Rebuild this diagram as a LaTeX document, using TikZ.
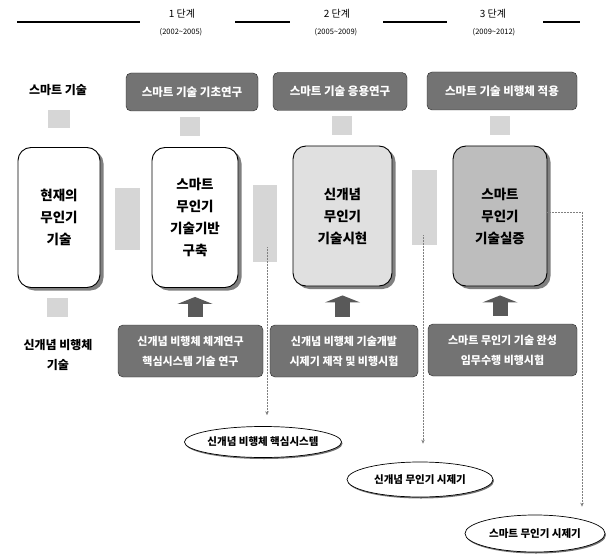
\documentclass[tikz,border=0pt]{standalone}
\usepackage{fontspec}
\setmainfont{Noto Sans CJK KR}
\usetikzlibrary{shapes.geometric, shapes.arrows, shadows}
\usetikzlibrary{arrows.meta}

\begin{document}
\begin{tikzpicture}[x=1pt,y=-1pt,
  stagetxt/.style={font=\fontsize{10}{10}\selectfont},
  yeartxt/.style={font=\fontsize{7.5}{8}\selectfont},
  sidetxt/.style={font=\fontsize{12}{20}\selectfont\bfseries, align=center},
  topbox/.style={draw=black!85, fill=black!55, rounded corners=5pt, text=white, font=\fontsize{11.5}{20}\selectfont\bfseries, align=center, inner sep=0pt, minimum height=38pt},
  botbox/.style={topbox, font=\fontsize{11}{20}\selectfont\bfseries, minimum height=52pt},
  stagebox/.style={draw=black, fill=white, line width=0.9pt, rounded corners=13pt, font=\fontsize{13.5}{22}\selectfont\bfseries, align=center, inner sep=0pt, minimum height=140pt, drop shadow={shadow xshift=3.5pt, shadow yshift=-3pt, fill=black!50, opacity=1}},
  softblock/.style={fill=black!16, inner sep=0pt},
  push/.style={line width=15pt, draw=black!65, -{Triangle[width=35pt,length=7pt]}, shorten <=8pt, shorten >=9pt},
  conn/.style={densely dotted, draw=black!50, line width=0.5pt, -{Stealth[length=4pt,width=3.5pt]}},
  result/.style={ellipse, draw=black, fill=white, line width=0.7pt, inner sep=0pt, font=\fontsize{10.5}{12}\selectfont\bfseries, drop shadow={shadow xshift=1pt, shadow yshift=-1.5pt, fill=black!55, opacity=1}},
  rule/.style={line width=1.3pt}]
\useasboundingbox (0,0) rectangle (607,556);

\draw[rule] (17,22) -- (140,22);
\draw[rule] (235,22) -- (290,22);
\draw[rule] (383,22) -- (447,22);
\draw[rule] (543,22) -- (580,22);
\node[stagetxt] (st1) at (182,14) {1 단계};
\node[yeartxt] (yr1) at (181,32) {(2002\textasciitilde 2005)};
\node[stagetxt] (st2) at (337,14) {2 단계};
\node[yeartxt] (yr2) at (336,32) {(2005\textasciitilde 2009)};
\node[stagetxt] (st3) at (493,14) {3 단계};
\node[yeartxt] (yr3) at (494,32) {(2009\textasciitilde 2012)};

\node[sidetxt] (smart) at (58,90) {스마트 기술};
\node[topbox, minimum width=132pt] (t1) at (192,92) {스마트 기술 기초연구};
\node[topbox, minimum width=134pt] (t2) at (340,91.5) {스마트 기술 응용연구};
\node[topbox, minimum width=150pt] (t3) at (502,91) {스마트 기술 비행체 적용};

\node[softblock, minimum width=22pt, minimum height=18pt] (dn0) at (59,119) {};
\node[softblock, minimum width=20pt, minimum height=19pt] (dn1) at (190,127) {};
\node[softblock, minimum width=20pt, minimum height=19pt] (dn2) at (342,126) {};
\node[softblock, minimum width=20pt, minimum height=19pt] (dn3) at (500,126) {};

\node[softblock, minimum width=25pt, minimum height=62pt] (gapAB) at (127.5,219) {};
\node[softblock, minimum width=24pt, minimum height=77pt] (gapBC) at (265,223.5) {};
\node[softblock, minimum width=25pt, minimum height=75pt] (gapCD) at (424.5,207.5) {};

\node[stagebox, minimum width=82pt] (mA) at (59,217.5) {현재의\\무인기\\기술};
\node[stagebox, minimum width=86pt] (mB) at (195,217.5) {스마트\\무인기\\기술기반\\구축};
\node[stagebox, minimum width=99pt, fill=black!12] (mC) at (342.5,216) {신개념\\무인기\\기술시현};
\node[stagebox, minimum width=94pt, fill=black!26] (mD) at (500,216) {스마트\\무인기\\기술실증};

\node[softblock, minimum width=21pt, minimum height=19pt] (up0) at (57,307) {};

\node[sidetxt] (newair) at (58,355) {신개념 비행체\\기술};
\node[botbox, minimum width=145pt] (b1) at (190.5,351) {신개념 비행체 체계연구\\핵심시스템 기술 연구};
\node[botbox, minimum width=148pt] (b2) at (344,351) {신개념 비행체 기술개발\\시제기 제작 및 비행시험};
\node[botbox, minimum width=149pt] (b3) at (502.5,350) {스마트 무인기 기술 완성\\임무수행 비행시험};

\draw[push] (b1.north -| mB.south) -- (mB.south);
\draw[push] (b2.north -| mC.south) -- (mC.south);
\draw[push] (b3.north -| mD.south) -- (mD.south);

\node[result, minimum width=133pt, minimum height=31pt] (e1) at (263,442) {신개념 비행체 핵심시스템};
\node[result, minimum width=146pt, minimum height=35pt] (e2) at (420,479.5) {신개념 무인기 시제기};
\node[result, minimum width=140pt, minimum height=37pt] (e3) at (535,533.5) {스마트 무인기 시제기};

\coordinate (s1) at (267,247);
\coordinate (s2) at (423,235);
\coordinate (s3) at (582,212);
\draw[conn, shorten >=11pt] (s1) -- (s1 |- e1.north);
\draw[conn, shorten >=18pt] (s2) -- (s2 |- e2.north);
\draw[conn, shorten >=8pt] (s3 -| mD.east) -- (s3) -- (s3 |- e3.north);
\end{tikzpicture}
\end{document}
